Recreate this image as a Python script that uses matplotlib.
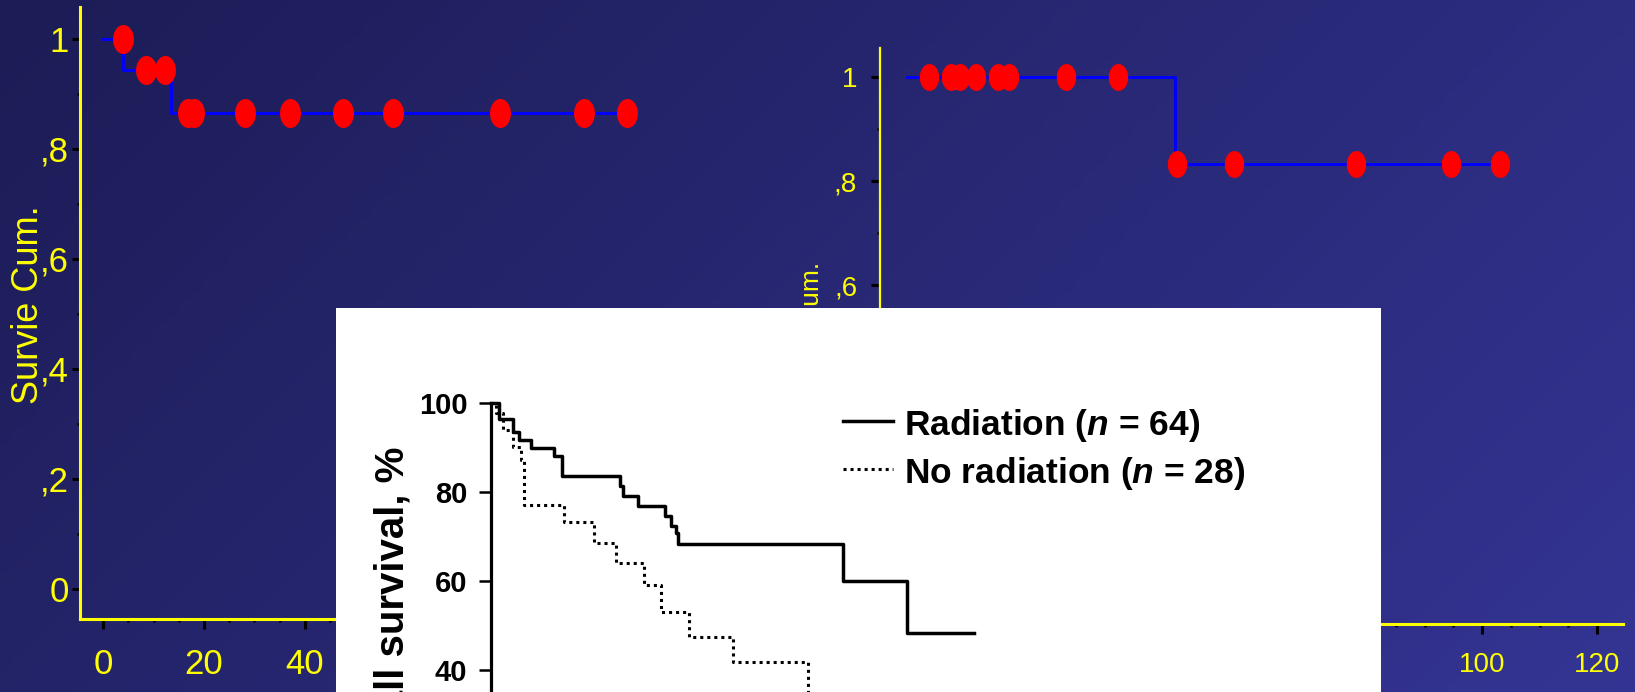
import numpy as np
import matplotlib
matplotlib.use('Agg')
import matplotlib.pyplot as plt
from matplotlib.path import Path
from matplotlib.lines import Line2D
from matplotlib.ticker import FixedLocator, FixedFormatter, MultipleLocator

plt.rcParams['font.family'] = ['Liberation Sans', 'DejaVu Sans']
plt.rcParams['mathtext.fontset'] = 'custom'
plt.rcParams['mathtext.it'] = 'Liberation Sans:italic:bold'

W, H, DPI = 1635, 692, 100

# ---------------- data ----------------
# left panel (Kaplan-Meier, cumulative survival)
left_step_t = [0, 3.9, 13.4, 104.0]
left_step_s = [1.0, 0.943, 0.866, 0.866]
left_cens_t = [3.9, 8.5, 12.2, 16.8, 18.0, 28.1, 37.0, 47.5, 57.5, 78.7, 95.3, 103.9]
left_cens_s = [1.0, 0.943, 0.943, 0.866, 0.866, 0.866, 0.866, 0.866, 0.866, 0.866, 0.866, 0.866]

# right panel
right_step_t = [0, 46.6, 103.1]
right_step_s = [1.0, 0.833, 0.833]
right_cens_t = [3.9, 7.7, 9.2, 12.0, 15.8, 17.7, 27.7, 36.7, 47.0, 56.9, 78.1, 94.6, 103.1]
right_cens_s = [1.0, 1.0, 1.0, 1.0, 1.0, 1.0, 1.0, 1.0, 0.833, 0.833, 0.833, 0.833, 0.833]

km_xticks = [0, 20, 40, 60, 80, 100, 120]
km_xlabels = ['0', '20', '40', '60', '80', '100', '120']
km_yticks = [0, 0.2, 0.4, 0.6, 0.8, 1.0]
km_ylabels = ['0', ',2', ',4', ',6', ',8', '1']
km_ylabel = 'Survie Cum.'

# inset (overall survival, %)
rad_t = [0, 2.1, 5.4, 6.9, 10.0, 15.8, 17.75, 32.25, 33.1, 36.7, 43.6, 45.0, 46.25, 46.7, 87.9, 104.0, 120.8]
rad_s = [100, 96.4, 93.6, 91.8, 89.9, 88.2, 83.7, 81.4, 79.1, 76.9, 74.6, 72.4, 70.7, 68.3, 60.0, 48.2, 48.2]
norad_t = [0, 1.25, 2.9, 5.4, 7.5, 8.3, 18.3, 25.8, 31.25, 38.3, 42.5, 49.4, 60.4, 79.2]
norad_s = [100, 97.8, 94.0, 90.3, 87.3, 77.1, 73.3, 68.6, 64.1, 59.1, 53.1, 47.4, 41.8, 33.0]
inset_yticks = [0, 20, 40, 60, 80, 100]
inset_ylabels = ['0', '20', '40', '60', '80', '100']
inset_ylabel = 'Overall survival, %'
legend_labels = [r'Radiation ($n$ = 64)', r'No radiation ($n$ = 28)']

# ---------------- figure ----------------
fig = plt.figure(figsize=(W / DPI, H / DPI), dpi=DPI)


def fx(px):
    return px / W


def fy(py):
    return 1 - py / H


# background gradient
bg = fig.add_axes([0, 0, 1, 1], zorder=0)
bg.set_axis_off()
xx, yy = np.meshgrid(np.linspace(0, 1, 400), np.linspace(0, 1, 200))
t = 0.7 * xx + 0.3 * yy
c0 = np.array([28, 28, 86]) / 255
c1 = np.array([52, 52, 148]) / 255
bg.imshow(c0 + (c1 - c0) * t[..., None], aspect='auto', extent=[0, 1, 0, 1], origin='upper')

theta = np.linspace(0, 2 * np.pi, 60)
ellipse = Path(np.column_stack([0.72 * np.cos(theta), np.sin(theta)]), closed=True)


def km_panel(rect, xlim, ylim, st, ss, ct, cs, msize, lab_size, ylen, ypad, xpad, yspine_lw):
    ax = fig.add_axes(rect, zorder=1)
    ax.patch.set_alpha(0)
    ax.set_xlim(*xlim)
    ax.set_ylim(*ylim)
    for s in ['top', 'right']:
        ax.spines[s].set_visible(False)
    ax.spines['left'].set_color('yellow')
    ax.spines['left'].set_linewidth(yspine_lw)
    ax.spines['bottom'].set_color('yellow')
    ax.spines['bottom'].set_linewidth(2.2)
    ax.xaxis.set_major_locator(FixedLocator(km_xticks))
    ax.xaxis.set_major_formatter(FixedFormatter(km_xlabels))
    ax.xaxis.set_minor_locator(MultipleLocator(5))
    ax.yaxis.set_major_locator(FixedLocator(km_yticks))
    ax.yaxis.set_major_formatter(FixedFormatter(km_ylabels))
    ax.yaxis.set_minor_locator(MultipleLocator(0.1))
    ax.tick_params(which='both', color='black', labelcolor='yellow', labelsize=lab_size)
    ax.tick_params(axis='y', which='major', length=ylen, width=2.2, pad=ypad)
    ax.tick_params(axis='x', which='major', length=7, width=2.2, pad=xpad)
    ax.tick_params(which='minor', length=2.2, width=2)
    ax.step(st, ss, where='post', color='#0000ff', lw=2.1, zorder=2)
    ax.plot(ct, cs, ls='none', marker=ellipse, markersize=msize, color='#ff0000',
            markeredgewidth=0, zorder=3, clip_on=False)
    return ax


ax1 = km_panel([fx(80), fy(619), fx(731) - fx(80), fy(7) - fy(619)], (-4.6, 124.5), (-0.0545, 1.058),
               left_step_t, left_step_s, left_cens_t, left_cens_s, 20.9, 25, 5.8, 2, 14, 2.2)
ax2 = km_panel([fx(880), fy(624), fx(1623) - fx(880), fy(48) - fy(624)], (-4.7, 124.5), (-0.052, 1.056),
               right_step_t, right_step_s, right_cens_t, right_cens_s, 19.4, 20, 6.5, 10, 13.5, 1.6)

fig.text(fx(28), fy(205), km_ylabel, rotation=90, ha='center', va='top', color='yellow',
         fontsize=26, zorder=2)
fig.text(fx(812), fy(262), km_ylabel, rotation=90, ha='center', va='top', color='yellow',
         fontsize=19, zorder=2)

# white inset background
wa = fig.add_axes([fx(336), 0, fx(1381) - fx(336), fy(308)], zorder=3)
wa.set_facecolor('white')
wa.set_xticks([])
wa.set_yticks([])
for s in wa.spines.values():
    s.set_visible(False)

# inset plot
ax3 = fig.add_axes([fx(491), fy(847), fx(1381) - fx(491), fy(403.5) - fy(847)], zorder=4)
ax3.patch.set_alpha(0)
ax3.set_xlim(0, 222.5)
ax3.set_ylim(0, 100)
for s in ['top', 'right', 'bottom']:
    ax3.spines[s].set_visible(False)
ax3.spines['left'].set_linewidth(2.3)
ax3.spines['left'].set_color('black')
ax3.set_xticks([])
ax3.set_yticks(inset_yticks, inset_ylabels, fontweight='bold', fontsize=21)
ax3.tick_params(axis='y', length=8.6, width=1.8, pad=8.5, color='black')
ax3.step(rad_t, rad_s, where='post', color='black', lw=2.5, clip_on=False)
ax3.step(norad_t, norad_s, where='post', color='black', lw=2.2, ls=(0, (1, 1.3)), clip_on=False)

fig.text(fx(392), fy(447), inset_ylabel, rotation=90, ha='center', va='top', fontsize=29,
         fontweight='bold', color='black', zorder=5)

# legend
fig.add_artist(Line2D([fx(843), fx(893)], [fy(421), fy(421)], transform=fig.transFigure,
                      color='black', lw=2.5, zorder=5))
fig.add_artist(Line2D([fx(843), fx(893)], [fy(469), fy(469)], transform=fig.transFigure,
                      color='black', lw=2.2, ls=(0, (1, 1.3)), zorder=5))
fig.text(fx(904), fy(435), legend_labels[0], fontsize=25.5, fontweight='bold', va='baseline',
         color='black', zorder=5)
fig.text(fx(904), fy(483), legend_labels[1], fontsize=25.5, fontweight='bold', va='baseline',
         color='black', zorder=5)

fig.savefig('out.png', dpi=DPI)
